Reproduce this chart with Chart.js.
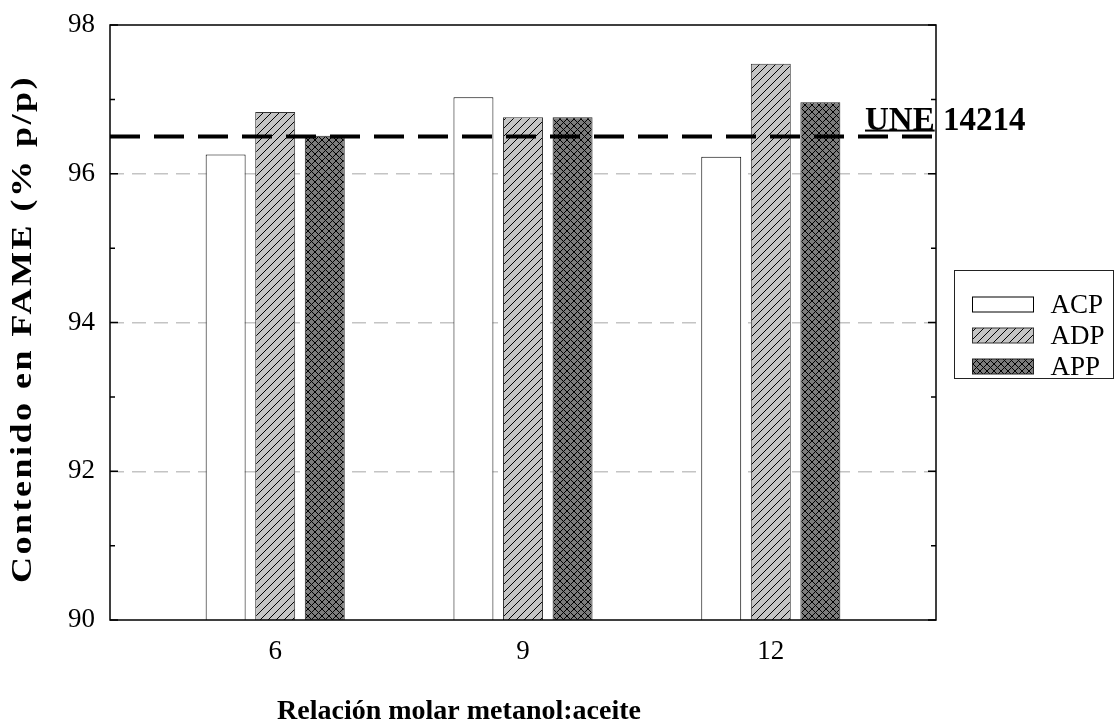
<!DOCTYPE html>
<html>
<head>
<meta charset="utf-8">
<script src="https://cdn.jsdelivr.net/npm/chart.js@4.4.0/dist/chart.umd.min.js"></script>
<style>
  html, body { margin: 0; padding: 0; background: #fff; }
</style>
</head>
<body>
<canvas id="chart" width="1115" height="722"></canvas>
<script>
const categories = [6, 9, 12];
const acp = [96.26, 97.03, 96.23];
const adp = [96.83, 96.76, 97.48];
const app = [96.51, 96.76, 96.96];
const seriesLabels = ['ACP', 'ADP', 'APP'];
const uneLimit = 96.5;
const uneLabel = 'UNE 14214';
const yTicks = [90, 92, 94, 96, 98];
const yMinorTicks = [91, 93, 95, 97];

const serif = '"Liberation Serif", "Times New Roman", serif';
const canvas = document.getElementById('chart');
const ctx = canvas.getContext('2d');

function hatch(bg, cross) {
    const size = cross ? 7 : 8;
    const c = document.createElement('canvas');
    c.width = size;
    c.height = size;
    const g = c.getContext('2d');
    g.fillStyle = bg;
    g.fillRect(0, 0, size, size);
    g.strokeStyle = '#000';
    g.lineWidth = 1;
    g.beginPath();
    g.moveTo(-1, size + 1); g.lineTo(size + 1, -1);
    g.moveTo(-1, 1); g.lineTo(1, -1);
    g.moveTo(size - 1, size + 1); g.lineTo(size + 1, size - 1);
    if (cross) {
        g.moveTo(-1, -1); g.lineTo(size + 1, size + 1);
        g.moveTo(size - 1, -1); g.lineTo(size + 1, 1);
        g.moveTo(-1, size - 1); g.lineTo(1, size + 1);
    }
    g.stroke();
    return ctx.createPattern(c, 'repeat');
}

const points = vals => categories.map((c, i) => ({ x: c, y: vals[i] }));

const fills = ['#ffffff', hatch('#c4c4c4', false), hatch('#7c7c7c', true)];
const borders = ['#000000', '#333333', '#222222'];

// frame, inward ticks, UNE label, legend and axis titles
const decor = {
    id: 'decor',
    afterDraw(chart) {
        const c = chart.ctx;
        const a = chart.chartArea;
        const y = chart.scales.y;
        c.save();

        c.strokeStyle = '#000';
        c.lineWidth = 1.5;
        c.strokeRect(a.left, a.top, a.right - a.left, a.bottom - a.top);

        c.beginPath();
        yTicks.concat(yMinorTicks).forEach(v => {
            const py = y.getPixelForValue(v);
            const len = yTicks.includes(v) ? 8 : 5;
            c.moveTo(a.left, py); c.lineTo(a.left + len, py);
            c.moveTo(a.right, py); c.lineTo(a.right - len, py);
        });
        c.stroke();

        // standard label
        const uy = y.getPixelForValue(uneLimit) - 6.5;
        const ux = a.right - 71;
        c.fillStyle = '#000';
        c.font = 'bold 33px ' + serif;
        c.textBaseline = 'alphabetic';
        c.textAlign = 'left';
        c.fillText(uneLabel, ux, uy);
        const uw = c.measureText(uneLabel.split(' ')[0]).width;
        c.fillRect(ux, uy - 0.5, uw, 2);

        // legend
        const lx = a.right + 18.5;
        c.lineWidth = 1;
        c.strokeStyle = '#222';
        c.strokeRect(lx, 270.5, 159, 108);
        c.font = '27px ' + serif;
        c.textBaseline = 'middle';
        chart.data.datasets.filter(d => d.type !== 'line').forEach((d, i) => {
            const sy = 297 + i * 31;
            c.fillStyle = d.backgroundColor;
            c.fillRect(lx + 18, sy, 61, 15);
            c.strokeStyle = d.borderColor;
            c.strokeRect(lx + 18, sy, 61, 15);
            c.fillStyle = '#000';
            c.fillText(d.label, lx + 96, sy + 8.5);
        });

        // axis titles
        c.font = 'bold 28px ' + serif;
        c.textAlign = 'center';
        c.textBaseline = 'alphabetic';
        c.fillText('Relación molar metanol:aceite', 459, 719);

        const yt = 'Contenido en FAME (% p/p)';
        c.font = 'bold 29px ' + serif;
        if ('letterSpacing' in c) c.letterSpacing = '2px';
        const w = c.measureText(yt).width;
        c.translate(31, 329);
        c.rotate(-Math.PI / 2);
        c.scale(508 / w, 1);
        c.fillText(yt, 0, 0);

        c.restore();
    }
};

const datasets = [
    {
        type: 'line',
        label: uneLabel,
        data: [{ x: 4, y: uneLimit }, { x: 14, y: uneLimit }],
        borderColor: '#000',
        borderWidth: 4,
        borderDash: [30, 14],
        pointRadius: 0,
        fill: false,
        order: 0
    }
];
[acp, adp, app].forEach((vals, i) => {
    datasets.push({
        label: seriesLabels[i],
        data: points(vals),
        backgroundColor: fills[i],
        borderColor: borders[i],
        borderWidth: 1,
        categoryPercentage: 0.6,
        barPercentage: 0.806,
        order: 1
    });
});

new Chart(ctx, {
    type: 'bar',
    data: { datasets },
    options: {
        responsive: false,
        animation: false,
        devicePixelRatio: 1,
        events: [],
        layout: { padding: { top: 25, right: 179, left: 0, bottom: 0 } },
        plugins: {
            legend: { display: false },
            tooltip: { enabled: false }
        },
        scales: {
            x: {
                type: 'linear',
                min: 4,
                max: 14,
                offset: false,
                afterFit: s => { s.height = 102; s.paddingLeft = 0; s.paddingRight = 0; },
                afterBuildTicks: s => { s.ticks = categories.map(v => ({ value: v })); },
                ticks: { font: { family: serif, size: 27 }, color: '#000', padding: 16, maxRotation: 0 },
                grid: { display: false, drawTicks: false },
                border: { display: false }
            },
            y: {
                min: 90,
                max: 98,
                afterFit: s => { s.width = 110; s.paddingTop = 0; s.paddingBottom = 0; },
                afterBuildTicks: s => { s.ticks = yTicks.map(v => ({ value: v })); },
                ticks: { font: { family: serif, size: 27 }, color: '#000', padding: 15 },
                grid: {
                    drawTicks: false,
                    lineWidth: 1.5,
                    color: c => (c.tick && c.tick.value > 90 && c.tick.value < 98) ? '#c4c4c4' : 'rgba(0,0,0,0)'
                },
                border: { display: false, dash: [14, 8] }
            }
        }
    },
    plugins: [decor]
});
</script>
</body>
</html>
